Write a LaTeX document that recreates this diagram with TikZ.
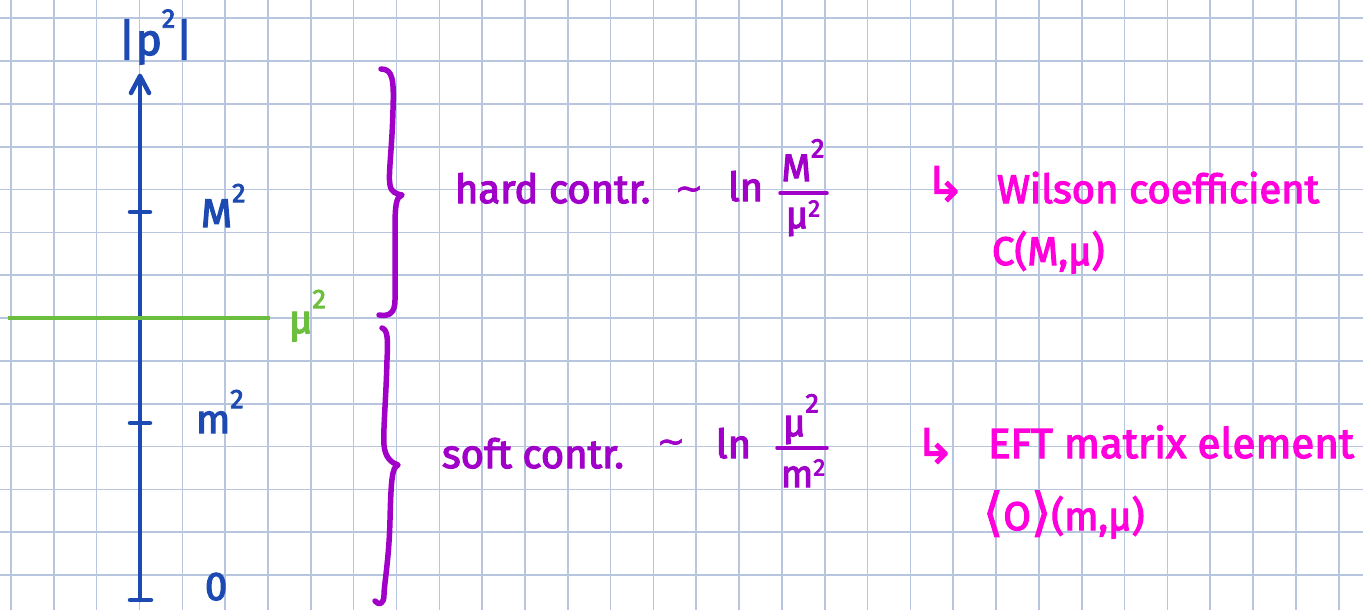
\documentclass[tikz,border=0pt]{standalone}
\usepackage{fontspec}
\setmainfont{Fira Sans}[FakeBold=3]
\newfontfamily\djv{DejaVu Sans}[FakeBold=2]
\definecolor{gridc}{RGB}{183,197,222}
\definecolor{axblue}{RGB}{28,74,178}
\definecolor{purp}{RGB}{160,0,200}
\definecolor{mag}{RGB}{255,0,220}
\definecolor{grn}{RGB}{108,190,62}
\newcommand\sqd{\raisebox{.62em}{\fontsize{27}{27}\selectfont 2}}
\newcommand\sqlow{\raisebox{.3em}{\fontsize{24}{24}\selectfont 2}}
\tikzset{
  every node/.style={inner sep=0pt, outer sep=0pt},
  gridline/.style={draw=gridc, line width=1.6pt},
  axisline/.style={draw=axblue, line width=4.5pt, line cap=round, line join=round},
  bracestyle/.style={draw=purp, line width=5.5pt, line cap=round, line join=round},
  bluetxt/.style={text=axblue, font=\fontsize{40}{48}\selectfont, anchor=base west},
  purptxt/.style={text=purp, font=\fontsize{40}{48}\selectfont, anchor=base west},
  magtxt/.style={text=mag, font=\fontsize{40}{48}\selectfont, anchor=base west},
  fracbar/.style={draw=purp, line width=3.5pt, line cap=round},
}
\begin{document}
\begin{tikzpicture}[x=1pt, y=-1pt]
\useasboundingbox (0,0) rectangle (1363,610);
\fill[white] (0,0) rectangle (1363,610);
% grid paper
\foreach \k in {0,...,31} { \draw[gridline] ({11+42.83*\k},0) -- ({11+42.83*\k},610); }
\foreach \k in {0,...,13} { \draw[gridline] (0,{18.3+42.83*\k}) -- (1363,{18.3+42.83*\k}); }
% axis
\coordinate (axbot) at (140,600);
\coordinate (axtop) at (140,76);
\draw[axisline] (axbot) -- (axtop);
\draw[axisline] ([shift={(-9,17)}]axtop) -- (axtop) -- ([shift={(9,17)}]axtop);
\coordinate (tM) at (140,212);
\coordinate (tm) at (140,423);
\draw[axisline] ([xshift=-10pt]tM) -- ([xshift=10pt]tM);
\draw[axisline] ([xshift=-10pt]tm) -- ([xshift=10pt]tm);
\draw[axisline] ([xshift=-10pt]axbot) -- ([xshift=11pt]axbot);
\node[bluetxt, font=\fontsize{44}{48}\selectfont] (plab) at (118,55) {|p\sqd|};
\node[bluetxt] (Mlab) at (201,227) {M\sqd};
\node[bluetxt] (mlab) at (196,433) {m\sqd};
\node[bluetxt] (zlab) at (205,600) {0};
% green scale line
\coordinate (gl) at (8,318);
\coordinate (gr) at (270,318);
\draw[draw=grn, line width=4pt] (gl) -- (gr);
\node[anchor=base west, text=grn, font=\fontsize{40}{48}\selectfont] (mulab) at (289,333) {μ\sqd};
% braces
\draw[bracestyle] (381,69) .. controls (393,69) and (394,80) .. (393,110)
  .. controls (392,150) and (388,175) .. (390,185)
  .. controls (391,192) and (396,194) .. (402,195)
  .. controls (396,197) and (395,205) .. (395,230)
  -- (395,300) .. controls (395,312) and (390,317) .. (379,315);
\draw[bracestyle] (382,328) .. controls (388,330) and (388,340) .. (387,360)
  .. controls (386,400) and (383,430) .. (384,445)
  .. controls (385,458) and (392,463) .. (398,465)
  .. controls (392,467) and (391,480) .. (390,520)
  .. controls (389,560) and (384,585) .. (384,595)
  .. controls (384,604) and (379,606) .. (375,601);
% hard contribution
\node[purptxt] (hard) at (455,203) {hard contr.};
\node[text=purp, font=\djv\fontsize{34}{36}\selectfont] (t1) at (689,193) {∼};
\node[purptxt] (ln1) at (728,201) {ln};
\coordinate (b1l) at (780,193);
\coordinate (b1r) at (827,193);
\draw[fracbar] (b1l) -- (b1r);
\node[text=purp, font=\fontsize{38}{40}\selectfont, anchor=base] (n1) at (803,181) {M\sqd};
\node[text=purp, font=\fontsize{38}{40}\selectfont, anchor=base] (d1) at (803,228) {μ\sqlow};
% soft contribution
\node[purptxt] (soft) at (442,468) {soft contr.};
\node[text=purp, font=\djv\fontsize{34}{36}\selectfont] (t2) at (671,446) {∼};
\node[purptxt] (ln2) at (716,458) {ln};
\coordinate (b2l) at (777,448);
\coordinate (b2r) at (827,448);
\draw[fracbar] (b2l) -- (b2r);
\node[text=purp, font=\fontsize{38}{40}\selectfont, anchor=base] (n2) at (801,436) {μ\sqd};
\node[text=purp, font=\fontsize{38}{40}\selectfont, anchor=base] (d2) at (803,487) {m\sqlow};
% Wilson coefficient
\node[text=mag, font=\djv\fontsize{48}{50}\selectfont] (a1) at (945,184) {↳};
\node[magtxt] (wil) at (997,203) {Wilson coefficient};
\node[magtxt] (cmu) at (992,265) {C(M,μ)};
% EFT matrix element
\node[text=mag, font=\djv\fontsize{48}{50}\selectfont] (a2) at (935,446) {↳};
\node[magtxt, font=\fontsize{42}{48}\selectfont] (eft) at (988,458) {EFT matrix element};
\node[magtxt] (ome) at (983,530) {{\djv\fontsize{52}{54}\selectfont ⟨}O{\djv\fontsize{52}{54}\selectfont ⟩}(m,μ)};
\end{tikzpicture}
\end{document}
